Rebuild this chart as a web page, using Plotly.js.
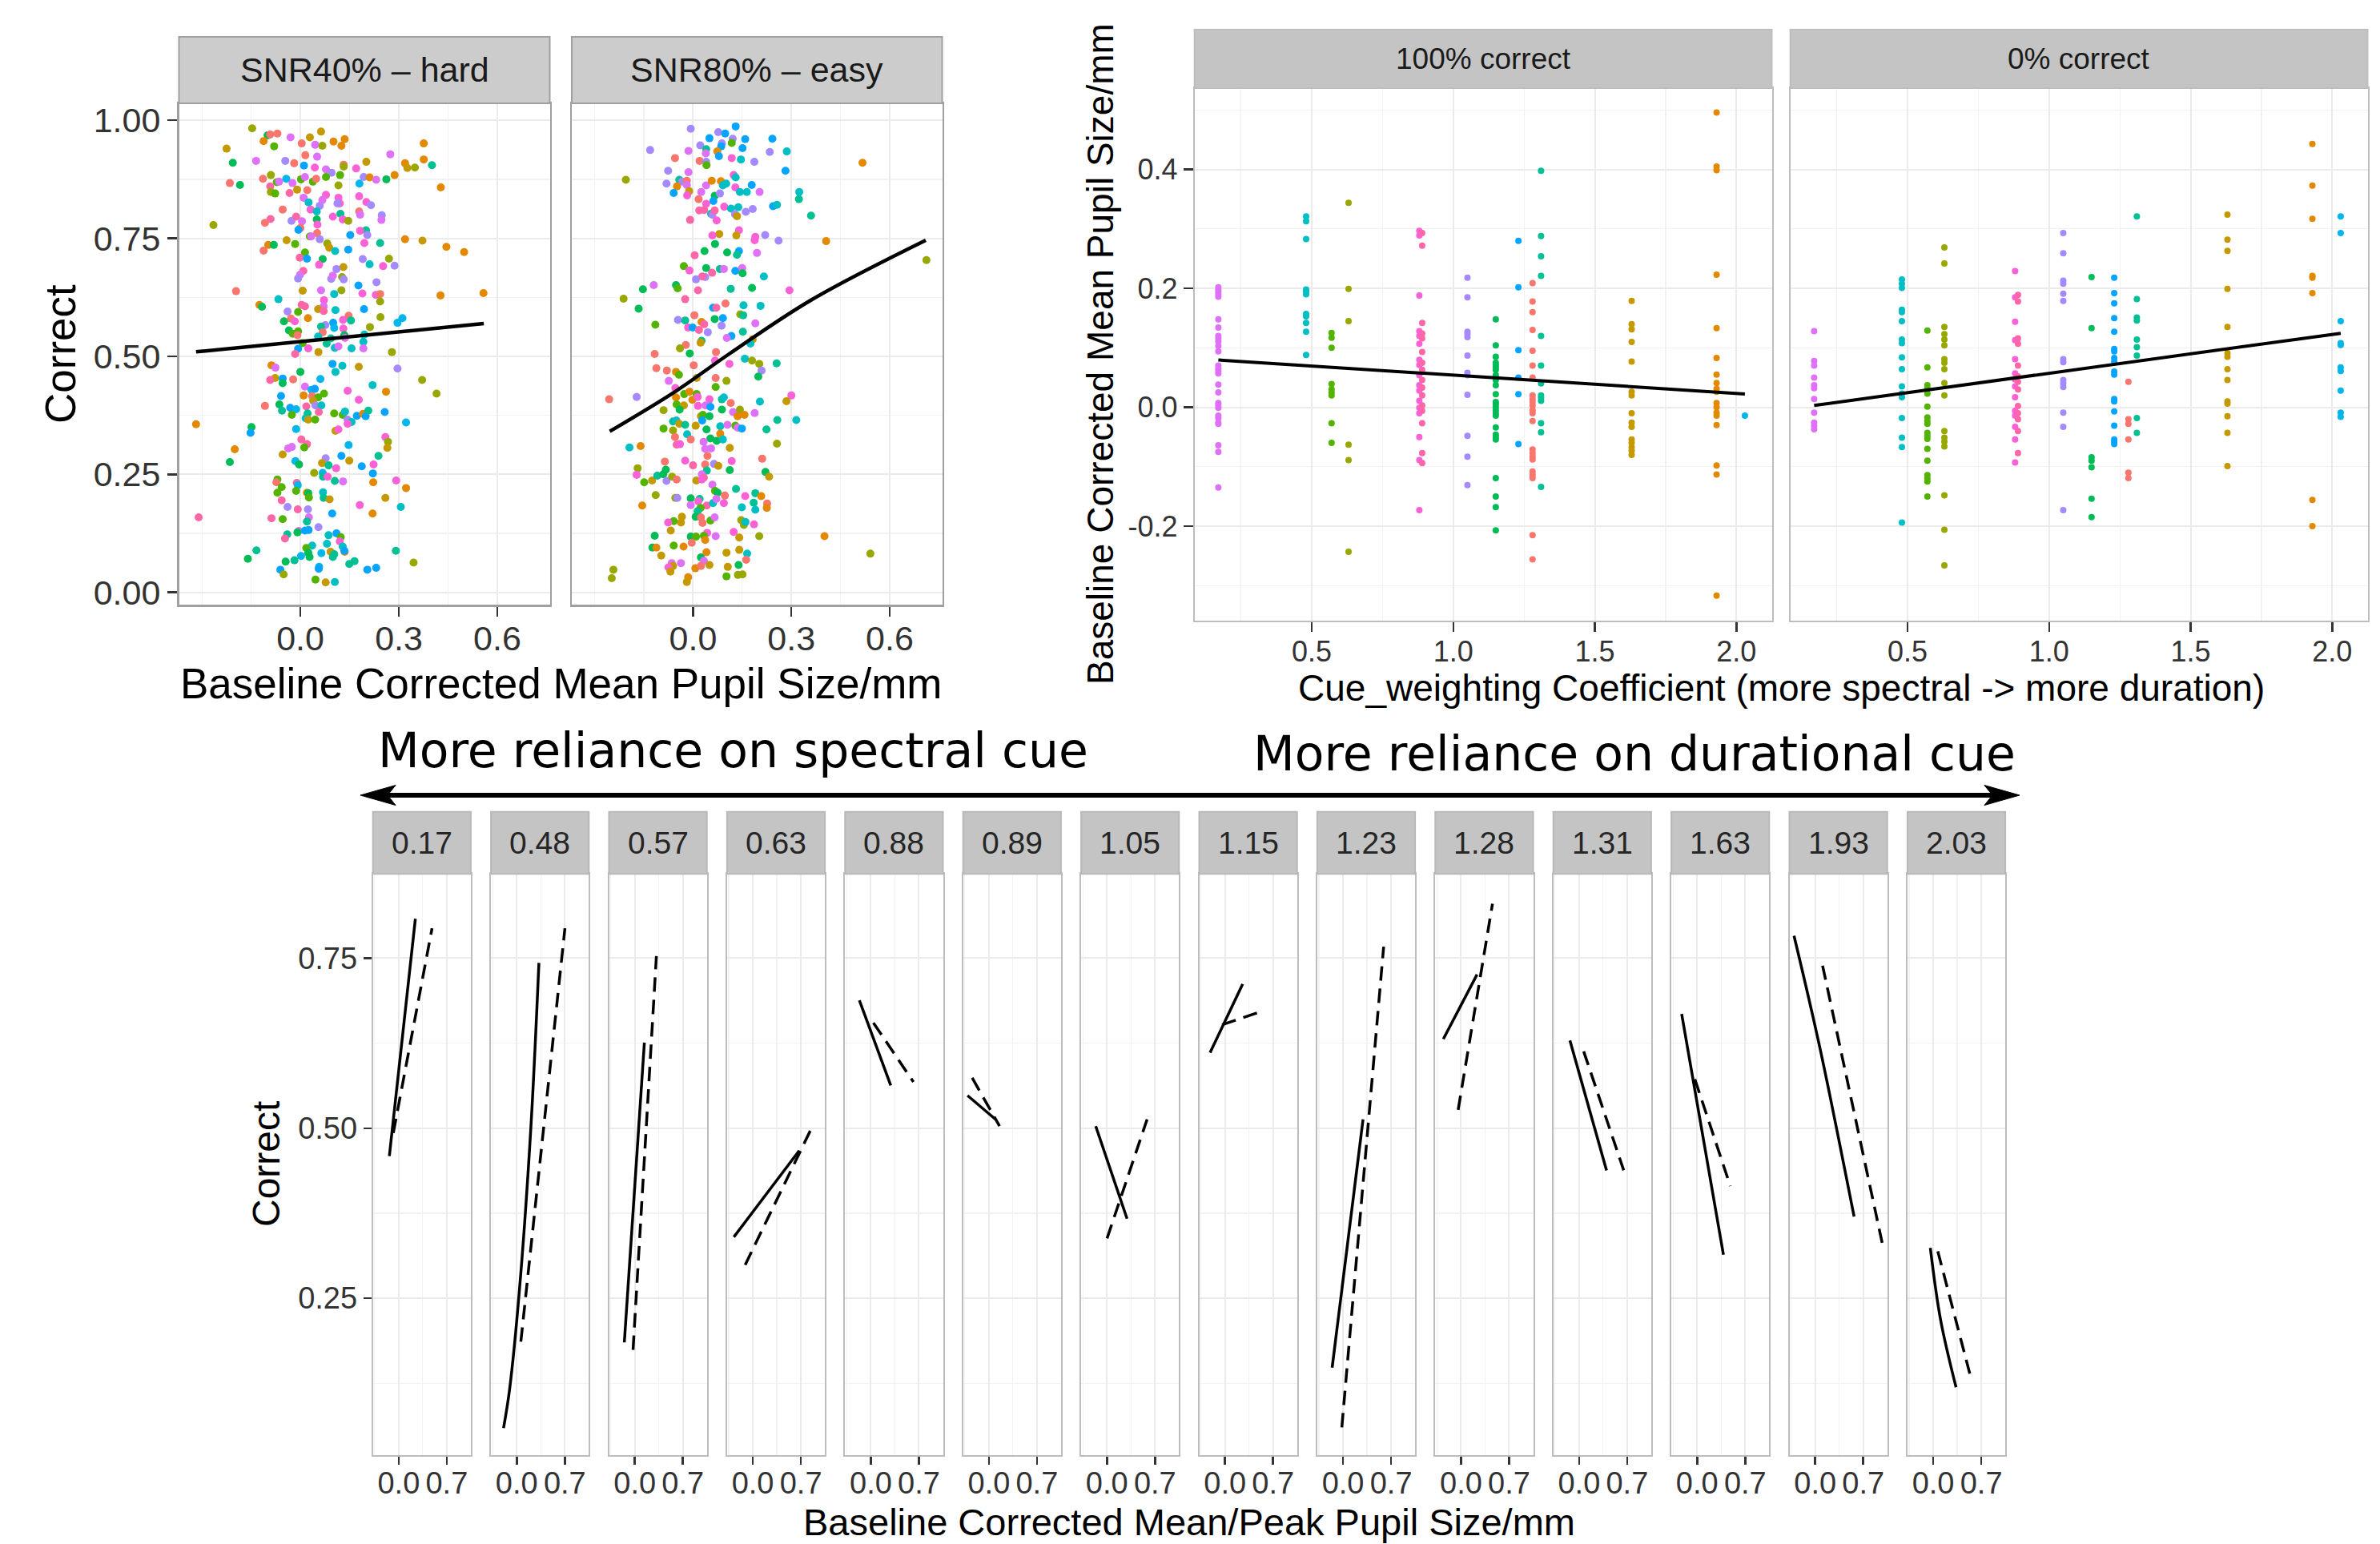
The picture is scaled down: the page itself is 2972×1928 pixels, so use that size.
<!DOCTYPE html>
<html><head><meta charset="utf-8">
<script src="https://cdn.plot.ly/plotly-3.0.1.min.js"></script>
<style>html,body{margin:0;padding:0;background:#fff;}#chart{width:2972px;height:1928px;}</style>
</head><body><div id="chart"></div>
<script>
// ---------------- DATA ----------------
// participants (colour code letters) and their colours
const subjectCodes = 'SOGLMNTCKBVPIR';
const subjectColors = ['#F8766D','#E38900','#C49A00','#99A800','#53B400','#00BC56','#00C094','#00BFC4','#00B6EB','#06A4FF','#A58AFF','#DF70F8','#FB61D7','#FF66A8'];

// Top-left: SNR40% - hard
const hardPupil = [
-0.147,-0.100,-0.092,-0.070,-0.112,-0.080,-0.225,-0.030,0.004,0.029,
0.063,0.045,0.067,0.101,0.135,0.125,0.376,0.274,-0.206,-0.135,
-0.046,-0.019,0.015,0.051,0.011,0.044,0.078,0.095,0.132,0.132,
0.170,0.201,0.319,0.326,0.349,0.376,0.401,-0.215,-0.184,-0.114,
-0.090,-0.072,-0.065,-0.043,-0.024,0.002,0.014,0.038,0.048,0.078,
0.121,0.116,0.193,0.211,0.231,0.262,0.287,0.180,0.428,-0.092,
-0.090,-0.077,-0.033,-0.010,0.021,0.010,0.025,0.059,0.078,0.067,
0.116,0.120,0.113,0.179,0.201,0.215,-0.054,-0.091,-0.108,-0.027,
-0.013,0.005,0.000,-0.006,0.031,0.050,0.050,0.052,0.051,0.029,
0.033,0.059,0.099,0.122,0.129,0.146,0.179,0.182,0.248,0.247,
0.200,0.182,0.204,0.152,-0.265,-0.042,-0.098,-0.081,-0.112,-0.016,
0.014,-0.002,0.020,0.068,0.057,0.082,0.088,0.106,0.146,0.195,
0.243,0.319,0.372,0.445,0.499,0.190,0.211,0.252,0.287,0.270,
0.131,0.110,0.009,-0.001,-0.007,0.094,0.099,0.127,0.132,0.177,
0.232,-0.196,-0.067,0.007,0.063,0.125,0.103,0.189,0.230,0.243,
-0.125,-0.117,0.004,0.014,0.072,0.071,0.054,0.071,0.107,0.194,
0.243,0.427,0.558,-0.039,-0.007,0.023,-0.029,-0.017,-0.050,0.147,
0.130,0.154,0.244,0.311,0.296,0.100,0.103,0.076,0.063,0.068,
0.131,0.212,-0.035,-0.007,-0.023,0.054,0.093,0.134,0.136,0.195,
0.192,0.007,0.080,-0.009,-0.007,0.024,0.105,0.116,0.156,0.192,
0.279,0.055,-0.016,
-0.088,-0.076,-0.077,-0.092,-0.054,-0.054,-0.022,0.000,0.098,0.128,
0.107,0.178,0.296,0.061,0.014,0.034,0.044,0.010,0.036,0.054,
0.072,0.039,0.018,0.046,0.064,0.056,-0.059,-0.064,-0.056,-0.031,
-0.013,-0.026,-0.108,0.022,0.016,0.024,0.045,0.103,0.129,0.136,
0.144,0.178,0.220,0.172,0.191,0.199,0.207,0.257,0.261,0.371,
0.415,0.144,0.156,0.144,0.322,-0.318,-0.149,-0.152,-0.013,0.107,
0.116,0.003,0.020,0.012,-0.200,-0.037,-0.026,-0.054,-0.215,-0.015,
-0.004,0.147,0.125,0.077,0.066,0.086,0.109,0.149,0.187,0.223,
0.221,0.238,0.259,0.267,0.265,0.042,0.068,0.069,0.083,0.105,
0.130,0.222,0.292,0.322,0.259,-0.070,-0.073,-0.057,-0.070,-0.011,
-0.008,-0.013,0.020,0.024,0.026,0.069,0.071,0.089,-0.057,-0.039,
-0.008,0.023,0.097,0.181,0.220,0.306,-0.310,-0.088,-0.054,0.026,
0.020,0.055,-0.005,-0.009,0.014,0.025,-0.040,-0.047,0.086,0.110,
0.123,0.120,0.081,0.129,0.135,0.134,0.036,0.018,0.024,0.028,
0.002,0.064,0.092,0.103,0.099,-0.134,-0.160,-0.045,-0.018,0.149,
0.165,0.291,0.345,-0.061,-0.051,0.057,0.056,0.204,0.231,0.046,
0.077,0.105];
const hardCorrect = [
0.983,0.968,0.970,0.972,0.956,0.945,0.940,0.964,0.951,0.964,
0.976,0.948,0.946,0.955,0.960,0.946,0.951,0.928,0.910,0.914,
0.914,0.909,0.926,0.923,0.904,0.900,0.896,0.889,0.906,0.902,
0.898,0.912,0.909,0.899,0.900,0.917,0.905,0.867,0.863,0.876,
0.884,0.869,0.870,0.876,0.867,0.875,0.880,0.870,0.876,0.880,
0.884,0.862,0.880,0.879,0.874,0.875,0.884,0.866,0.858,0.860,
0.848,0.845,0.846,0.853,0.852,0.836,0.826,0.819,0.842,0.831,
0.836,0.824,0.824,0.839,0.827,0.820,0.811,0.791,0.783,0.787,
0.796,0.786,0.772,0.768,0.811,0.807,0.790,0.779,0.761,0.754,
0.754,0.748,0.796,0.802,0.790,0.787,0.807,0.800,0.799,0.789,
0.767,0.766,0.757,0.757,0.778,0.746,0.736,0.736,0.724,0.738,
0.720,0.709,0.707,0.706,0.694,0.739,0.730,0.723,0.726,0.740,
0.740,0.748,0.745,0.732,0.721,0.706,0.695,0.691,0.692,0.707,
0.689,0.685,0.681,0.673,0.665,0.664,0.671,0.668,0.663,0.650,
0.657,0.638,0.621,0.639,0.640,0.640,0.632,0.633,0.630,0.632,
0.609,0.605,0.609,0.606,0.619,0.606,0.600,0.596,0.598,0.600,
0.616,0.629,0.634,0.595,0.594,0.581,0.580,0.574,0.574,0.586,
0.577,0.576,0.583,0.581,0.571,0.571,0.560,0.566,0.563,0.551,
0.559,0.562,0.555,0.553,0.548,0.542,0.538,0.545,0.539,0.546,
0.531,0.528,0.527,0.545,0.516,0.517,0.518,0.521,0.517,0.517,
0.509,0.509,0.505,
0.481,0.476,0.454,0.450,0.453,0.443,0.451,0.467,0.484,0.480,
0.467,0.478,0.474,0.452,0.436,0.429,0.431,0.417,0.416,0.413,
0.421,0.406,0.394,0.396,0.396,0.382,0.416,0.398,0.385,0.391,
0.388,0.376,0.395,0.379,0.369,0.366,0.366,0.379,0.376,0.383,
0.427,0.408,0.439,0.374,0.378,0.373,0.385,0.382,0.425,0.450,
0.421,0.366,0.361,0.357,0.360,0.356,0.350,0.338,0.346,0.342,
0.345,0.324,0.314,0.307,0.303,0.305,0.308,0.292,0.276,0.278,
0.271,0.312,0.289,0.284,0.274,0.269,0.263,0.279,0.267,0.271,
0.252,0.289,0.329,0.319,0.306,0.253,0.253,0.245,0.245,0.236,
0.235,0.233,0.237,0.221,0.200,0.239,0.233,0.223,0.211,0.232,
0.227,0.215,0.211,0.210,0.201,0.212,0.200,0.197,0.195,0.181,
0.176,0.176,0.167,0.185,0.167,0.181,0.159,0.157,0.155,0.159,
0.150,0.138,0.130,0.127,0.131,0.132,0.123,0.114,0.121,0.125,
0.117,0.108,0.103,0.097,0.086,0.088,0.099,0.094,0.084,0.075,
0.077,0.083,0.086,0.081,0.075,0.089,0.071,0.065,0.068,0.060,
0.066,0.088,0.063,0.048,0.038,0.054,0.050,0.048,0.052,0.027,
0.021,0.022];
const hardSubject =
'LNSSOMGPSG'+'GPLOOOOPNP'+'VSSPBIPVSL'+'IGOGLOTSNS'+'LMPKPMPMSM'+'MLVOPNOKOR'+'LMRGSPCVIP'+'IIVIIVSRSV'+'RPSBICNISM'+'PVITILSPVP'+
'TIVBLGONSM'+'MRBNILGCBI'+'TOGOOVCIVL'+'GVRPVVPLVB'+'VSCGPLCIIS'+'ONRRIPGRCB'+'LOOVMOSINS'+'ITLKKBKVTS'+'ILNMMCTNPC'+'CMTSBICPCP'+'LGR'+
'OPGRBNSNBC'+'CGVKPKBOSM'+'MGRVCRBNTB'+'KMSTCGMMMC'+'IICBOBTBOL'+'LVCIKONBKG'+'IRRMOPPGNK'+'NKBVGTIGBI'+'BTILGLKTIT'+'POIOGMSMMR'+
'KMONMCTGRV'+'RVBIOCRRMP'+'TVPNBBTRCB'+'MICCOBCMNN'+'KKGTTTNNTT'+'TTLBLKBBBM'+'GC';
const hardFitPupil = [-0.318, 0.559];
const hardFitCorrect = [0.5095, 0.5696];

// Top-left: SNR80% - easy
const easyPupil = [
-0.007,0.130,0.077,0.098,0.050,0.121,0.159,0.242,0.118,0.088,
0.086,0.022,0.040,-0.131,-0.014,0.074,0.151,0.234,0.286,-0.055,
0.039,0.079,0.118,0.146,0.020,0.040,0.041,0.187,0.282,0.517,
-0.076,-0.014,-0.205,-0.042,-0.033,-0.081,-0.049,-0.019,-0.019,-0.012,
-0.059,-0.018,0.025,0.017,0.040,0.057,0.085,0.091,0.101,0.124,
0.130,0.129,0.143,0.164,0.179,0.203,0.066,0.082,0.062,0.040,
0.019,0.034,0.055,0.059,0.066,0.072,-0.009,0.095,0.116,0.138,
0.128,0.134,0.161,0.182,0.244,0.256,0.324,0.323,0.360,0.140,
0.080,0.059,0.132,0.190,0.188,0.220,0.261,0.406,0.067,0.035,
0.104,0.140,0.134,0.005,0.195,-0.028,-0.011,0.040,0.082,0.094,
0.129,0.150,0.151,0.037,0.028,0.058,0.009,0.216,0.712,-0.120,
-0.153,-0.052,-0.047,0.015,0.115,0.180,0.294,-0.212,-0.166,-0.024,
0.061,0.071,0.099,0.154,0.206,0.144,0.153,-0.115,-0.046,-0.024,
0.004,0.026,0.034,0.066,0.091,0.087,-0.015,-0.001,0.018,0.045,
0.117,0.103,0.152,0.190,0.182,0.175,0.026,0.023,-0.022,-0.040,
-0.010,0.070,-0.117,
-0.112,-0.080,-0.052,-0.043,0.002,0.067,0.111,0.158,0.180,0.202,
0.255,0.209,0.199,0.011,0.069,0.102,0.069,-0.074,-0.054,-0.256,
-0.172,-0.052,-0.027,-0.011,0.011,-0.002,0.014,0.050,0.088,0.094,
0.115,0.204,0.300,0.285,-0.050,-0.028,-0.041,-0.090,0.015,0.038,
0.053,0.088,0.122,0.143,0.136,0.157,0.188,0.024,0.030,0.050,
-0.061,-0.051,-0.042,-0.024,0.028,0.008,0.083,0.105,0.129,0.136,
0.149,0.224,0.257,0.315,-0.090,-0.061,0.041,-0.018,0.083,-0.055,
-0.007,0.053,0.072,0.091,0.032,-0.050,-0.040,0.037,0.055,0.112,
-0.194,-0.160,0.256,0.044,-0.086,-0.024,0.000,0.037,0.064,0.077,
0.042,0.112,0.118,0.211,-0.169,-0.172,-0.149,-0.125,-0.109,-0.091,
-0.083,-0.081,-0.064,-0.050,0.010,0.027,0.033,0.027,0.221,0.232,
0.059,0.067,0.075,0.097,0.131,0.159,0.190,0.208,-0.114,-0.054,
-0.048,-0.007,0.020,0.016,-0.007,0.042,0.023,0.061,0.071,0.094,
0.149,0.185,0.190,0.226,0.225,-0.155,0.014,0.008,0.024,0.029,
0.053,0.066,-0.034,-0.037,-0.059,-0.076,0.147,0.155,0.160,0.186,
-0.068,0.043,0.069,0.124,0.141,0.202,-0.117,-0.007,0.009,0.033,
0.037,-0.124,-0.112,-0.059,-0.029,-0.004,-0.097,0.041,0.102,0.141,
0.165,0.401,0.541,0.024,0.033,-0.065,-0.037,-0.061,-0.075,-0.069,
0.007,0.024,0.050,0.106,0.139,0.162,-0.015,-0.019,0.102,0.137,
0.151,-0.243,-0.248];
const easyCorrect = [
0.982,0.987,0.975,0.972,0.962,0.961,0.960,0.961,0.952,0.951,
0.945,0.947,0.939,0.937,0.935,0.934,0.941,0.933,0.934,0.920,
0.930,0.924,0.920,0.917,0.914,0.912,0.905,0.912,0.893,0.910,
0.893,0.890,0.874,0.874,0.870,0.866,0.860,0.872,0.863,0.850,
0.846,0.841,0.848,0.833,0.862,0.872,0.871,0.862,0.866,0.884,
0.879,0.858,0.848,0.848,0.863,0.848,0.840,0.845,0.829,0.823,
0.809,0.810,0.802,0.800,0.809,0.788,0.789,0.817,0.813,0.816,
0.801,0.797,0.806,0.812,0.818,0.821,0.848,0.833,0.798,0.767,
0.759,0.756,0.756,0.753,0.746,0.757,0.745,0.744,0.738,0.723,
0.720,0.723,0.715,0.714,0.719,0.691,0.682,0.687,0.685,0.685,
0.681,0.687,0.676,0.668,0.669,0.677,0.663,0.669,0.704,0.651,
0.642,0.651,0.644,0.640,0.643,0.645,0.640,0.622,0.601,0.621,
0.603,0.603,0.612,0.608,0.607,0.589,0.587,0.567,0.577,0.576,
0.587,0.573,0.568,0.579,0.581,0.565,0.561,0.561,0.556,0.551,
0.543,0.539,0.552,0.570,0.536,0.527,0.533,0.529,0.524,0.517,
0.506,0.509,0.505,
0.475,0.470,0.467,0.461,0.481,0.491,0.484,0.495,0.491,0.484,
0.485,0.470,0.457,0.454,0.454,0.448,0.435,0.448,0.433,0.409,
0.414,0.413,0.420,0.425,0.420,0.408,0.414,0.409,0.409,0.413,
0.401,0.404,0.417,0.405,0.398,0.396,0.387,0.386,0.395,0.396,
0.393,0.387,0.382,0.387,0.373,0.376,0.380,0.373,0.376,0.373,
0.362,0.364,0.357,0.355,0.364,0.353,0.352,0.355,0.353,0.349,
0.347,0.345,0.365,0.365,0.347,0.343,0.345,0.335,0.336,0.329,
0.324,0.326,0.321,0.324,0.319,0.313,0.314,0.304,0.305,0.306,
0.307,0.310,0.315,0.289,0.277,0.279,0.269,0.271,0.272,0.268,
0.258,0.259,0.278,0.283,0.263,0.249,0.233,0.237,0.247,0.250,
0.260,0.236,0.245,0.239,0.237,0.250,0.243,0.239,0.255,0.245,
0.228,0.215,0.211,0.205,0.219,0.204,0.210,0.204,0.206,0.200,
0.200,0.199,0.198,0.193,0.185,0.184,0.179,0.189,0.198,0.189,
0.180,0.190,0.175,0.188,0.179,0.184,0.172,0.160,0.159,0.147,
0.152,0.159,0.160,0.148,0.151,0.148,0.153,0.143,0.149,0.144,
0.131,0.126,0.119,0.128,0.116,0.119,0.120,0.118,0.118,0.120,
0.111,0.095,0.095,0.099,0.097,0.105,0.078,0.085,0.084,0.090,
0.082,0.119,0.082,0.074,0.067,0.062,0.062,0.056,0.053,0.044,
0.051,0.056,0.058,0.054,0.058,0.069,0.032,0.022,0.034,0.037,
0.038,0.048,0.030];
const easySubject =
'VBVBBVBBMV'+'BVTVPOBVCS'+'PBICSVMVBO'+'VPLTVVOSPG'+'BIPSPOOCCI'+'CICCBPNVBI'+'RRTVRIRICC'+'VGVVBCCTTI'+'GIGIIVVONN'+'NBTRPMINTP'+
'BPNVRRVCLP'+'NNMRTNILNR'+'BRSCCLTMVT'+'SORNBVIBRV'+'BPTPGCTGSL'+'NSS'+
'SSOMSIICLL'+'TVNGSLMPIS'+'VOMOMOIITC'+'SCIGMGNLIP'+'BNPLOOPGMN'+'TCGTBGCPMP'+'BTTCMLNCOS'+'SNNCPRIPPG'+'COLSSIRSVG'+'TNISLIMGTN'+
'NVLSGPRING'+'PMNSTITOLL'+'VNTIPRMCPI'+'CTCSOOTNSS'+'MPGGMILLCI'+'GIPIGLNNMM'+'ONOMOSGOGG'+'COLNPPPGIG'+'OSGGNSOGML'+'LLL';
const easyFitPupil = [-0.254, -0.053, 0.110, 0.362, 0.710];
const easyFitCorrect = [0.341, 0.426, 0.505, 0.620, 0.746];

// Cue-weighting coefficients (one per participant)
const cueLevels = [0.17, 0.48, 0.57, 0.63, 0.88, 0.89, 1.05, 1.15, 1.23, 1.28, 1.31, 1.63, 1.93, 2.03];
const cueLabels = ['0.17','0.48','0.57','0.63','0.88','0.89','1.05','1.15','1.23','1.28','1.31','1.63','1.93','2.03'];
const cueSubject = 'PCMLIRVNBSTGOK';

// Top-right: pupil size by coefficient, 100% correct
const pupilCorrect100 = [
 [0.202,0.198,0.194,0.190,0.186,0.148,0.134,0.120,0.116,0.111,0.103,0.094,0.070,0.065,0.061,0.057,0.038,0.025,0.007,0.003,-0.001,-0.014,-0.018,-0.026,-0.028,-0.064,-0.075,-0.135],
 [0.321,0.313,0.283,0.198,0.194,0.190,0.157,0.153,0.142,0.127,0.088],
 [0.125,0.117,0.100,0.039,0.030,0.025,0.020,-0.027,-0.060],
 [0.344,0.199,0.145,-0.063,-0.089,-0.243],
 [0.297,0.289,0.188,0.128,0.120,0.107,0.080,0.071,0.054,0.037,0.028,0.011,-0.001,-0.010,-0.050,-0.089,-0.173],
 [0.293,0.272,0.142,0.124,0.116,0.093,0.075,0.063,0.046,0.033,0.020,0.003,-0.006,-0.027,-0.077,-0.094],
 [0.218,0.185,0.127,0.123,0.118,0.087,0.058,0.054,0.021,-0.048,-0.083,-0.131],
 [0.148,0.104,0.085,0.075,0.071,0.067,0.063,0.054,0.050,0.046,0.037,0.022,0.009,0.005,0.000,-0.005,-0.010,-0.014,-0.034,-0.046,-0.050,-0.054,-0.119,-0.150,-0.168,-0.207],
 [0.280,0.202,0.096,0.050,0.022,-0.062],
 [0.209,0.178,0.160,0.130,0.095,0.070,0.050,0.020,0.014,0.009,0.003,-0.005,-0.010,-0.023,-0.071,-0.077,-0.083,-0.088,-0.108,-0.114,-0.119,-0.215,-0.256],
 [0.398,0.288,0.254,0.221,0.120,0.070,0.040,0.020,0.016,0.011,-0.027,-0.042,-0.134],
 [0.179,0.140,0.131,0.110,0.077,0.026,0.020,-0.010,-0.026,-0.033,-0.054,-0.060,-0.067,-0.073,-0.080],
 [0.496,0.405,0.399,0.223,0.133,0.083,0.055,0.041,0.031,0.026,0.007,0.000,-0.009,-0.014,-0.030,-0.098,-0.113,-0.317],
 [-0.014]
];
// Top-right: 0% correct
const pupilCorrect0 = [
 [0.128,0.078,0.070,0.050,0.037,0.032,0.014,-0.009,-0.026,-0.031,-0.037],
 [0.215,0.208,0.201,0.164,0.160,0.145,0.114,0.108,0.084,0.064,0.035,0.023,0.017,-0.018,-0.051,-0.067,-0.194],
 [0.129,0.067,0.037,0.031,0.023,0.001,-0.017,-0.023,-0.028,-0.043,-0.048,-0.053,-0.070,-0.090,-0.114,-0.120,-0.125,-0.150],
 [0.269,0.242,0.135,0.123,0.114,0.104,0.081,0.075,0.064,0.041,0.020,-0.040,-0.051,-0.058,-0.066,-0.148,-0.206,-0.266],
 [0.229,0.185,0.144,0.113,0.081,0.057,0.047,0.035,0.017,-0.006,-0.014,-0.033,-0.054,-0.093],
 [0.189,0.178,0.116,0.107,0.070,0.052,0.043,0.030,0.002,-0.010,-0.020,-0.040,-0.077],
 [0.293,0.259,0.213,0.208,0.191,0.179,0.081,0.076,0.046,0.040,0.034,-0.009,-0.033,-0.173],
 [0.219,0.133,-0.084,-0.090,-0.101,-0.154,-0.185],
 [0.218,0.192,0.175,0.150,0.127,0.098,0.094,0.083,0.077,0.060,0.055,0.014,0.010,-0.007,-0.031,-0.054,-0.058,-0.062],
 [0.043,-0.020,-0.028,-0.054,-0.110,-0.119],
 [0.321,0.182,0.151,0.146,0.114,0.101,0.087,-0.018,-0.043],
 [0.324,0.282,0.263,0.199,0.135,0.091,0.085,0.064,0.046,0.010,0.006,-0.015,-0.043,-0.099],
 [0.443,0.373,0.317,0.221,0.218,0.192,-0.156,-0.200],
 [0.321,0.293,0.145,0.108,0.105,0.067,0.061,0.028,-0.009,-0.016]
];
const fit100Coef = [0.17, 2.03], fit100Pupil = [0.0796, 0.0224];
const fit0Coef = [0.17, 2.03], fit0Pupil = [0.003, 0.1245];

// Bottom: per-participant fits (solid = mean, dashed = peak)
const solidPupil = [[-0.136,0.243],[-0.192,-0.105,0.041,0.206,0.323],[-0.152,0.140],[-0.276,0.676],[-0.167,0.290],[-0.311,0.097],[-0.163,0.293],
 [-0.217,0.258],[-0.158,0.292],[-0.258,0.233],[-0.133,0.400],[-0.225,0.383],[-0.308,0.067,0.567],[-0.042,0.108,0.333]];
const solidCorrect = [[0.459,0.808],[0.059,0.115,0.264,0.501,0.743],[0.185,0.626],[0.340,0.467],[0.688,0.563],[0.548,0.513],[0.503,0.367],
 [0.611,0.712],[0.148,0.513],[0.631,0.726],[0.629,0.438],[0.668,0.314],[0.783,0.619,0.370],[0.324,0.218,0.119]];
const dashPupil = [[-0.078,0.486],[0.060,0.702],[-0.025,0.315],[-0.111,0.860],[0.037,0.620],[-0.243,0.155],[0.002,0.585],
 [-0.042,0.508],[-0.017,0.592],[-0.042,0.458],[0.067,0.650],[-0.033,0.483],[0.108,1.000],[0.067,0.533]];
const dashCorrect = [[0.493,0.794],[0.186,0.794],[0.174,0.753],[0.299,0.501],[0.655,0.568],[0.574,0.503],[0.338,0.513],
 [0.652,0.671],[0.060,0.767],[0.527,0.830],[0.613,0.438],[0.572,0.415],[0.739,0.320],[0.319,0.139]];

// tick labels
const tlXTicks = [0, 0.3, 0.6], tlXText = ['0.0','0.3','0.6'];
const tlYTicks = [0, 0.25, 0.5, 0.75, 1], tlYText = ['0.00','0.25','0.50','0.75','1.00'];
const trXTicks = [0.5, 1, 1.5, 2], trXText = ['0.5','1.0','1.5','2.0'];
const trYTicks = [-0.2, 0, 0.2, 0.4], trYText = ['-0.2','0.0','0.2','0.4'];
const bXTicks = [0, 0.7], bXText = ['0.0','0.7'];
const bYTicks = [0.25, 0.5, 0.75], bYText = ['0.25','0.50','0.75'];

// ---------------- LAYOUT HELPERS ----------------
const W = 2972, H = 1928;
const px = v => v / W;
const py = v => 1 - v / H;
const FONT = 'Liberation Sans, Arial, Helvetica, sans-serif';
const colorOf = ch => { const k = subjectCodes.indexOf(ch); return subjectColors[k < 0 ? 0 : k]; };

const layout = {
  width: W, height: H, margin: {l:0, r:0, t:0, b:0}, autosize: false,
  paper_bgcolor: '#ffffff', plot_bgcolor: '#ffffff', showlegend: false, hovermode: false,
  font: {family: FONT, color: '#000'},
  annotations: [], shapes: []
};

function addAxes(n, xDom, yDom, xr, yr, xt, xtt, yt, ytt, xMinor, yMinor, showY, st) {
  const sfx = n === 1 ? '' : String(n);
  const base = {showline: true, mirror: true, linecolor: st.line, linewidth: st.lw, zeroline: false,
    showgrid: true, gridcolor: '#EBEBEB', gridwidth: st.gw, tickmode: 'array', fixedrange: true,
    ticklen: st.tl, tickwidth: 2.5, tickcolor: '#333333', title: {text: ''}};
  layout['xaxis' + sfx] = Object.assign({}, base, {
    domain: [px(xDom[0]), px(xDom[1])], range: xr, anchor: 'y' + sfx,
    tickvals: xt, ticktext: xtt, ticks: 'outside', showticklabels: true, ticklabelstandoff: st.xso,
    tickfont: {family: FONT, size: st.fs, color: '#333333'},
    minor: {tickmode: 'array', tickvals: xMinor, showgrid: true, gridcolor: '#F2F2F2', gridwidth: st.mgw, ticks: ''}
  });
  layout['yaxis' + sfx] = Object.assign({}, base, {
    domain: [py(yDom[1]), py(yDom[0])], range: yr, anchor: 'x' + sfx,
    tickvals: yt, ticktext: ytt, ticks: showY ? 'outside' : '', showticklabels: showY,
    tickfont: {family: FONT, size: st.fs, color: '#333333'},
    minor: {tickmode: 'array', tickvals: yMinor, showgrid: true, gridcolor: '#F2F2F2', gridwidth: st.mgw, ticks: ''}
  });
}
function strip(x0, x1, y0, y1, text, fill, lc, fs, fc) {
  layout.shapes.push({type: 'rect', xref: 'paper', yref: 'paper', x0: px(x0), x1: px(x1), y0: py(y1), y1: py(y0),
    fillcolor: fill, line: {color: lc, width: 2}, layer: 'above'});
  layout.annotations.push({xref: 'paper', yref: 'paper', x: px((x0 + x1) / 2), y: py((y0 + y1) / 2), text: text,
    showarrow: false, xanchor: 'center', yanchor: 'middle', font: {family: FONT, size: fs, color: fc}});
}
function label(x, y, text, size, angle, anchor, family, yanchor) {
  layout.annotations.push({xref: 'paper', yref: 'paper', x: px(x), y: py(y), text: text, showarrow: false,
    xanchor: anchor || 'center', yanchor: yanchor || 'middle', textangle: angle || 0,
    font: {family: family || FONT, size: size, color: '#000'}});
}

const traces = [];

// ---------------- TOP-LEFT ----------------
const stA = {line: '#A0A0A0', lw: 2.5, gw: 2, mgw: 1.2, fs: 43, tl: 12, xso: -9};
const aY = [129, 755], aRangeX = [-0.37, 0.76], aRangeY = [-0.026, 1.036];
const aMinorX = [-0.3, -0.15, 0.15, 0.45], aMinorY = [0.125, 0.375, 0.625, 0.875];
addAxes(1, [223.5, 686.5], aY, aRangeX, aRangeY, tlXTicks, tlXText, tlYTicks, tlYText, aMinorX, aMinorY, true, stA);
addAxes(2, [714, 1176.5], aY, aRangeX, aRangeY, tlXTicks, tlXText, tlYTicks, tlYText, aMinorX, aMinorY, false, stA);
strip(223.5, 686.5, 46, 129, 'SNR40% – hard', '#CCCCCC', '#A0A0A0', 43, '#1A1A1A');
strip(714, 1176.5, 46, 129, 'SNR80% – easy', '#CCCCCC', '#A0A0A0', 43, '#1A1A1A');

traces.push({type: 'scatter', mode: 'markers', x: hardPupil, y: hardCorrect, xaxis: 'x', yaxis: 'y',
  marker: {size: 10, color: hardPupil.map((_, i) => colorOf(hardSubject[i])), line: {width: 0}}});
traces.push({type: 'scatter', mode: 'markers', x: easyPupil, y: easyCorrect, xaxis: 'x2', yaxis: 'y2',
  marker: {size: 10, color: easyPupil.map((_, i) => colorOf(easySubject[i])), line: {width: 0}}});
traces.push({type: 'scatter', mode: 'lines', x: hardFitPupil, y: hardFitCorrect, xaxis: 'x', yaxis: 'y', line: {color: '#000', width: 4.5}});
traces.push({type: 'scatter', mode: 'lines', x: easyFitPupil, y: easyFitCorrect, xaxis: 'x2', yaxis: 'y2', line: {color: '#000', width: 4.5, shape: 'spline'}});
label(700, 853, 'Baseline Corrected Mean Pupil Size/mm', 53);
label(76, 442, 'Correct', 53, -90);

// ---------------- TOP-RIGHT ----------------
const stB = {line: '#BDBDBD', lw: 2, gw: 2, mgw: 1.2, fs: 36, tl: 12, xso: -6};
const bY = [110, 775], bRangeX = [0.086, 2.125], bRangeY = [-0.359, 0.537];
const bMinorX = [0.25, 0.75, 1.25, 1.75], bMinorY = [-0.3, -0.1, 0.1, 0.3, 0.5];
addAxes(3, [1491.7, 2212.5], bY, bRangeX, bRangeY, trXTicks, trXText, trYTicks, trYText, bMinorX, bMinorY, true, stB);
addAxes(4, [2235.7, 2956.5], bY, bRangeX, bRangeY, trXTicks, trXText, trYTicks, trYText, bMinorX, bMinorY, false, stB);
strip(1491.7, 2212.5, 37, 110, '100% correct', '#C4C4C4', '#BDBDBD', 37, '#1A1A1A');
strip(2235.7, 2956.5, 37, 110, '0% correct', '#C4C4C4', '#BDBDBD', 37, '#1A1A1A');

[[pupilCorrect100, 'x3', 'y3'], [pupilCorrect0, 'x4', 'y4']].forEach(([arr, xa, ya]) => {
  cueLevels.forEach((lv, i) => {
    traces.push({type: 'scatter', mode: 'markers', x: arr[i].map(() => lv), y: arr[i], xaxis: xa, yaxis: ya,
      marker: {size: 8, color: colorOf(cueSubject[i]), line: {width: 0}}});
  });
});
traces.push({type: 'scatter', mode: 'lines', x: fit100Coef, y: fit100Pupil, xaxis: 'x3', yaxis: 'y3', line: {color: '#000', width: 4}});
traces.push({type: 'scatter', mode: 'lines', x: fit0Coef, y: fit0Pupil, xaxis: 'x4', yaxis: 'y4', line: {color: '#000', width: 4}});
label(1374, 442, 'Baseline Corrected Mean Pupil Size/mm', 46, -90);
label(2224, 859, 'Cue_weighting Coefficient (more spectral -> more duration)', 46);

// ---------------- BOTTOM FACETS ----------------
const stC = {line: '#BDBDBD', lw: 2, gw: 2, mgw: 1.2, fs: 38, tl: 10, xso: -10};
const cY = [1091.2, 1817.2], cRangeX = [-0.375, 1.05], cRangeY = [0.019, 0.874];
const cMinorX = [-0.35, 0.35], cMinorY = [0.125, 0.375, 0.625];
cueLevels.forEach((lv, i) => {
  const n = 5 + i, left = 465.7 + 147.4 * i, right = left + 122.2;
  addAxes(n, [left, right], cY, cRangeX, cRangeY, bXTicks, bXText, bYTicks, bYText, cMinorX, cMinorY, i === 0, stC);
  strip(left, right, 1013.7, 1091.2, cueLabels[i], '#C4C4C4', '#B8B8B8', 39, '#262626');
  traces.push({type: 'scatter', mode: 'lines', x: solidPupil[i], y: solidCorrect[i], xaxis: 'x' + n, yaxis: 'y' + n,
    line: {color: '#000', width: 3.5, shape: 'spline'}});
  traces.push({type: 'scatter', mode: 'lines', x: dashPupil[i], y: dashCorrect[i], xaxis: 'x' + n, yaxis: 'y' + n,
    line: {color: '#000', width: 3.5, dash: '18px,10px'}});
});
label(332, 1454, 'Correct', 48, -90);
label(1485, 1900, 'Baseline Corrected Mean/Peak Pupil Size/mm', 47);

// ---------------- ARROW + CUE TEXT ----------------
label(470, 937, 'More reliance on spectral cue', 60, 0, 'left', 'DejaVu Sans, sans-serif');
label(2519, 941, 'More reliance on durational cue', 60, 0, 'right', 'DejaVu Sans, sans-serif');
const ay = 993;
layout.shapes.push({type: 'line', xref: 'paper', yref: 'paper', x0: px(480), x1: px(2492), y0: py(ay), y1: py(ay),
  line: {color: '#000', width: 6}});
const head = pts => 'M ' + pts.map(p => px(p[0]) + ',' + py(p[1])).join(' L ') + ' Z';
layout.shapes.push({type: 'path', xref: 'paper', yref: 'paper', path: head([[450, ay], [494, ay - 12.5], [484, ay], [494, ay + 12.5]]),
  fillcolor: '#000', line: {color: '#000', width: 1}});
layout.shapes.push({type: 'path', xref: 'paper', yref: 'paper', path: head([[2522, ay], [2478, ay - 12.5], [2488, ay], [2478, ay + 12.5]]),
  fillcolor: '#000', line: {color: '#000', width: 1}});

Plotly.newPlot('chart', traces, layout, {staticPlot: true, displayModeBar: false});
</script></body></html>
